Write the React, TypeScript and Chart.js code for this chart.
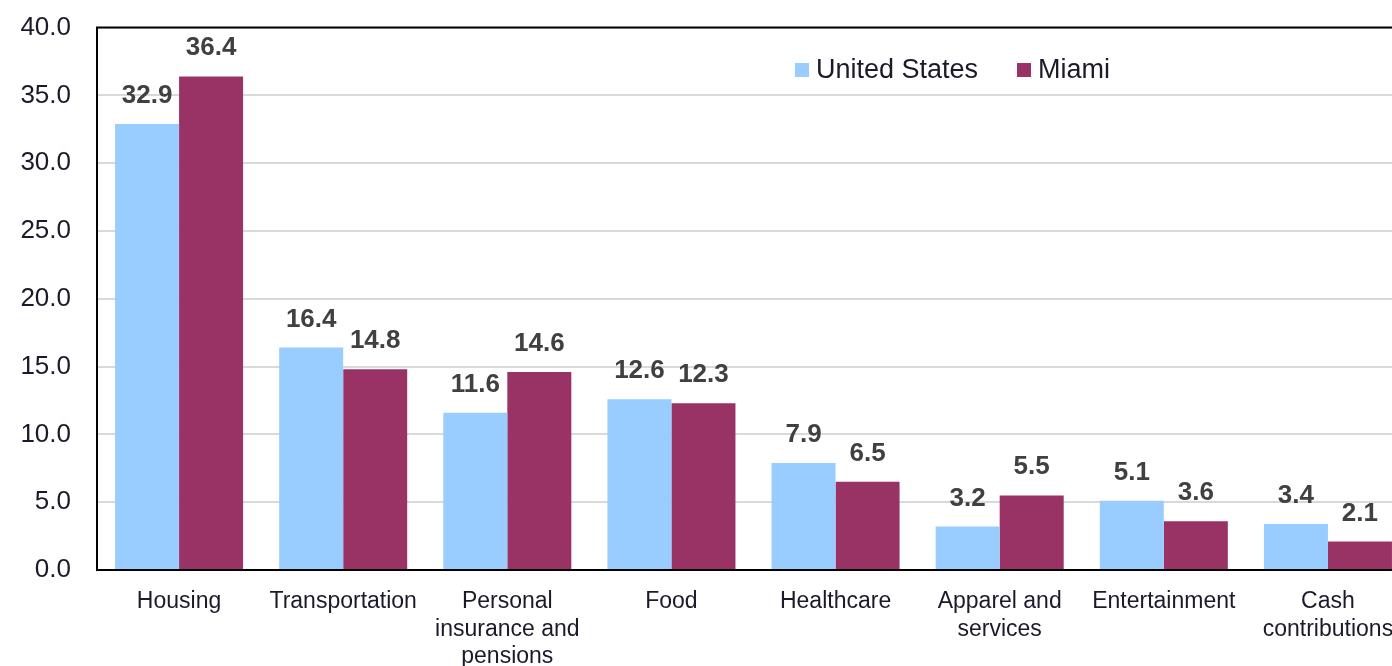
import React, { useEffect, useRef } from "react";
import { Chart, registerables } from "chart.js";

Chart.register(...registerables);

const categories: (string | string[])[] = [
  "Housing",
  "Transportation",
  ["Personal", "insurance and", "pensions"],
  "Food",
  "Healthcare",
  ["Apparel and", "services"],
  "Entertainment",
  ["Cash", "contributions"],
];
const usValues = [32.9, 16.4, 11.6, 12.6, 7.9, 3.2, 5.1, 3.4];
const miamiValues = [36.4, 14.8, 14.6, 12.3, 6.5, 5.5, 3.6, 2.1];
const seriesNames = ["United States", "Miami"];
const seriesColors = ["#99CCFF", "#993366"];

const FONT = "'Liberation Sans', Arial, sans-serif";
const SHIFT = 14;

const labelPlugin = {
  id: "customDecor",
  afterDatasetsDraw(chart: any) {
    const ctx = chart.ctx;
    const area = chart.chartArea;
    ctx.save();
    // data labels
    ctx.font = `bold 26px ${FONT}`;
    ctx.fillStyle = "#404040";
    ctx.textAlign = "center";
    ctx.textBaseline = "alphabetic";
    chart.data.datasets.forEach((ds: any, i: number) => {
      const meta = chart.getDatasetMeta(i);
      meta.data.forEach((bar: any, j: number) => {
        ctx.fillText(Number(ds.data[j]).toFixed(1), bar.x, bar.y - 21);
      });
    });
    // border
    ctx.strokeStyle = "#000";
    ctx.lineWidth = 2;
    ctx.beginPath();
    ctx.moveTo(area.right, area.top);
    ctx.lineTo(area.left, area.top);
    ctx.lineTo(area.left, area.bottom);
    ctx.lineTo(area.right, area.bottom);
    ctx.stroke();
    // legend
    ctx.font = `27px ${FONT}`;
    ctx.textAlign = "left";
    ctx.textBaseline = "middle";
    const items = [
      { x: 795, name: seriesNames[0], color: seriesColors[0] },
      { x: 1017, name: seriesNames[1], color: seriesColors[1] },
    ];
    const ly = 70 + SHIFT;
    items.forEach((it) => {
      ctx.fillStyle = it.color;
      ctx.fillRect(it.x, ly - 7, 14, 14);
      ctx.fillStyle = "#1a1a2a";
      ctx.fillText(it.name, it.x + 21, ly + 1);
    });
    ctx.restore();
  },
};

export default function App() {
  const ref = useRef<HTMLCanvasElement>(null);
  useEffect(() => {
    const chart = new Chart(ref.current!, {
      type: "bar",
      data: {
        labels: categories,
        datasets: [
          { label: seriesNames[0], data: usValues, backgroundColor: seriesColors[0] },
          { label: seriesNames[1], data: miamiValues, backgroundColor: seriesColors[1] },
        ],
      },
      options: {
        animation: false,
        responsive: false,
        devicePixelRatio: 1,
        layout: { padding: { top: 12, left: 0, right: 0, bottom: 0 } },
        datasets: { bar: { categoryPercentage: 0.78, barPercentage: 1 } },
        plugins: { legend: { display: false }, tooltip: { enabled: false } },
        scales: {
          x: {
            grid: { display: false },
            border: { display: false },
            ticks: {
              color: "#1a1a2a",
              font: { family: FONT, size: 23, lineHeight: 1.2 },
              padding: 10,
              maxRotation: 0,
              autoSkip: false,
            },
            afterFit: (s: any) => { s.height = 96; },
          },
          y: {
            min: 0,
            max: 40,
            ticks: {
              stepSize: 5,
              color: "#1a1a2a",
              font: { family: FONT, size: 26 },
              padding: 26,
              callback: (v: any) => Number(v).toFixed(1),
            },
            grid: { color: "#D9D9D9", lineWidth: 2, drawTicks: false },
            border: { display: false },
            afterFit: (s: any) => { s.width = 97; },
          },
        },
      },
      plugins: [labelPlugin],
    });
    return () => chart.destroy();
  }, []);
  return (
    <div style={{ position: "fixed", left: 0, top: -SHIFT, width: 1410, height: 666 + SHIFT, background: "#fff" }}>
      <canvas ref={ref} width={1410} height={666 + SHIFT} style={{ width: 1410, height: 666 + SHIFT, display: "block" }} />
    </div>
  );
}
